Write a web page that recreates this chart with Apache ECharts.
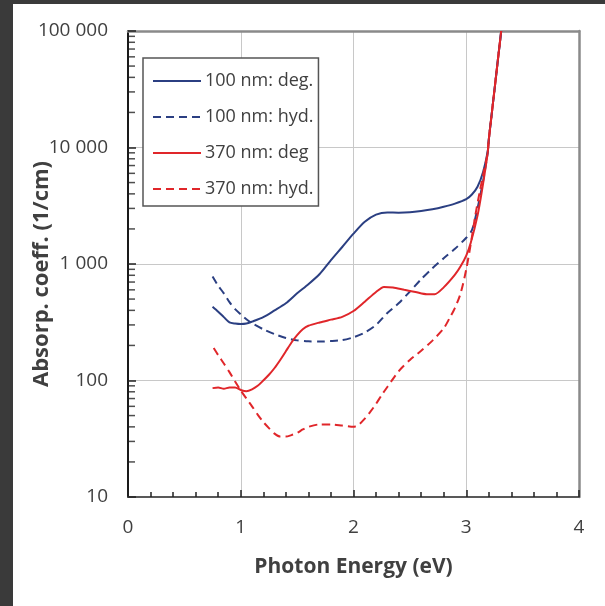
<!DOCTYPE html>
<html>
<head>
<meta charset="utf-8">
<script src="https://cdn.jsdelivr.net/npm/echarts@6/dist/echarts.min.js"></script>
<style>
html,body{margin:0;padding:0;background:#fff;width:100%;height:100%;overflow:hidden;}
#bandTop{position:absolute;left:0;top:0;right:0;height:4px;background:#3a3a3a;}
#bandLeft{position:absolute;left:0;top:0;bottom:0;width:13px;background:#3a3a3a;}
#chart{position:absolute;left:13px;top:4px;width:592px;height:602px;background:#fff;}
</style>
</head>
<body>
<div id="bandTop"></div>
<div id="bandLeft"></div>
<div id="chart"></div>
<script>
// ---- data ----
const seriesNames = ['100 nm: deg.', '100 nm: hyd.', '370 nm: deg', '370 nm: hyd.'];
const tailE = [3.2, 3.225, 3.25, 3.275, 3.3, 3.31];
const tailV = [11700, 19100, 31000, 50600, 82300, 100000];

const blueDegE = [0.75,0.8,0.85,0.9,0.95,1.0,1.05,1.1,1.2,1.3,1.4,1.5,1.6,1.7,1.8,1.9,2.0,2.1,2.2,2.3,2.4,2.5,2.6,2.7,2.8,2.9,3.0,3.05,3.1,3.15,3.19];
const blueDegV = [430,390,350,315,308,305,308,320,350,400,460,560,670,820,1080,1400,1820,2300,2650,2770,2760,2780,2850,2950,3100,3300,3600,3950,4600,6200,9200];

const blueHydE = [0.75,0.8,0.85,0.9,0.95,1.0,1.05,1.1,1.2,1.3,1.4,1.5,1.6,1.7,1.8,1.9,2.0,2.1,2.2,2.3,2.4,2.5,2.6,2.7,2.8,2.9,3.0,3.05,3.1,3.15,3.19];
const blueHydV = [780,650,560,470,410,370,335,310,275,250,232,221,217,216,218,222,235,258,300,380,460,580,740,920,1120,1350,1680,1950,3000,5200,9000];

const redDegE = [0.75,0.8,0.85,0.9,0.95,1.0,1.05,1.1,1.15,1.2,1.25,1.3,1.35,1.4,1.45,1.5,1.55,1.6,1.7,1.8,1.9,2.0,2.1,2.2,2.27,2.35,2.45,2.55,2.65,2.72,2.8,2.9,2.95,3.0,3.04,3.1,3.14,3.19];
const redDegV = [86,87,85,87,87,83,81,84,90,100,112,128,150,178,212,245,275,295,315,333,352,395,475,575,634,628,600,575,550,550,630,810,955,1180,1520,2600,4300,9000];

const redHydE = [0.76,0.8,0.85,0.9,0.95,1.0,1.05,1.1,1.15,1.2,1.25,1.3,1.35,1.4,1.45,1.5,1.55,1.6,1.7,1.8,1.9,2.0,2.05,2.1,2.15,2.2,2.25,2.3,2.4,2.5,2.6,2.7,2.8,2.85,2.9,2.95,3.0,3.05,3.08,3.12,3.16,3.19];
const redHydV = [190,165,140,118,98,82,70,60,51,44,39,35,33,33,34,35.5,38,40,42,42,41,40,42,47,54,63,75,88,120,150,180,220,280,340,420,560,900,1700,2600,4200,6500,9000];

const yMinorTickValues = [20,30,40,50,60,70,80,90,200,300,400,500,600,700,800,900,2000,3000,4000,5000,6000,7000,8000,9000,20000,30000,40000,50000,60000,70000,80000,90000];
const xTickLabels = ['0','1','2','3','4'];

function pairs(E, V) {
  const a = E.map((e, i) => [e, V[i]]);
  return a.concat(tailE.map((e, i) => [e, tailV[i]]));
}
function fmt(v) {
  return String(Math.round(v)).replace(/\B(?=(\d{3})+(?!\d))/g, ' ');
}

const FONT = '"Open Sans", "Noto Sans", sans-serif';
const BLUE = '#2b3f82';
const RED = '#e0262a';

const chart = echarts.init(document.getElementById('chart'), null, {renderer: 'canvas'});
const lineSeries = (name, data, color, dashed) => ({
  name, type: 'line', data, showSymbol: false, symbol: 'none', smooth: 0.25,
  xAxisIndex: 0, yAxisIndex: 0, z: 3,
  lineStyle: {color, width: 2, type: dashed ? [8, 5] : 'solid'},
  itemStyle: {color}
});

chart.setOption({
  animation: false,
  backgroundColor: '#fff',
  grid: {left: 115, right: 26, top: 27, bottom: 109, containLabel: false},
  legend: {
    orient: 'vertical', left: 130, top: 54,
    data: seriesNames,
    itemWidth: 48, itemHeight: 14, itemGap: 16,
    padding: [13, 5, 7, 9],
    itemStyle: {opacity: 0},
    backgroundColor: '#fff', borderColor: '#555', borderWidth: 1.5, borderRadius: 0,
    textStyle: {fontFamily: FONT, fontSize: 18, color: '#404040', lineHeight: 20, padding: [0, 0, 0, -1]},
    z: 10
  },
  xAxis: [{
    type: 'value', min: 0, max: 4, interval: 1, position: 'bottom',
    axisLine: {show: true, onZero: false, lineStyle: {color: '#595959', width: 2}},
    axisTick: {show: true, inside: true, length: 7, lineStyle: {color: '#222', width: 1.5}},
    minorTick: {show: true, splitNumber: 5, length: 5, lineStyle: {color: '#222', width: 1.5}},
    axisLabel: {fontFamily: FONT, fontSize: 19, color: '#404040', margin: 21,
      formatter: v => xTickLabels[Math.round(v)]},
    splitLine: {show: true, lineStyle: {color: '#c8c8c8', width: 1}},
    name: 'Photon Energy (eV)', nameLocation: 'middle', nameGap: 60,
    nameTextStyle: {fontFamily: FONT, fontSize: 21, fontWeight: 'bold', color: '#404040'}
  }, {
    type: 'value', min: 0, max: 4, position: 'top',
    axisLine: {show: true, onZero: false, lineStyle: {color: '#8a8a8a', width: 2.5}},
    axisTick: {show: false}, axisLabel: {show: false}, splitLine: {show: false}
  }],
  yAxis: [{
    type: 'log', logBase: 10, min: 10, max: 100000, position: 'left',
    axisLine: {show: true, onZero: false, lineStyle: {color: '#1a1a1a', width: 2}},
    axisTick: {show: true, inside: true, length: 8, lineStyle: {color: '#222', width: 1.5}},
    axisLabel: {fontFamily: FONT, fontSize: 19, color: '#404040', margin: 20, formatter: fmt},
    splitLine: {show: true, lineStyle: {color: '#c8c8c8', width: 1}}
  }, {
    type: 'log', logBase: 10, min: 10, max: 100000, position: 'right',
    axisLine: {show: true, onZero: false, lineStyle: {color: '#8a8a8a', width: 2.5}},
    axisTick: {show: false}, axisLabel: {show: false}, splitLine: {show: false}
  }],
  graphic: [{
    type: 'text',
    x: 29, y: 270, rotation: Math.PI / 2,
    style: {text: 'Absorp. coeff. (1/cm)', fontFamily: FONT, fontSize: 22, fontWeight: 'bold',
      fill: '#404040', align: 'center', verticalAlign: 'middle'}
  }],
  series: [
    lineSeries(seriesNames[0], pairs(blueDegE, blueDegV), BLUE, false),
    lineSeries(seriesNames[1], pairs(blueHydE, blueHydV), BLUE, true),
    lineSeries(seriesNames[2], pairs(redDegE, redDegV), RED, false),
    lineSeries(seriesNames[3], pairs(redHydE, redHydV), RED, true),
    {
      name: 'yMinorTicks', type: 'scatter', silent: true, clip: false, z: 2,
      xAxisIndex: 0, yAxisIndex: 0,
      data: yMinorTickValues.map(v => [0, v]),
      symbol: 'rect', symbolSize: [6, 1.5], symbolOffset: [4, 0],
      itemStyle: {color: '#222'}
    }
  ]
});
</script>
</body>
</html>
